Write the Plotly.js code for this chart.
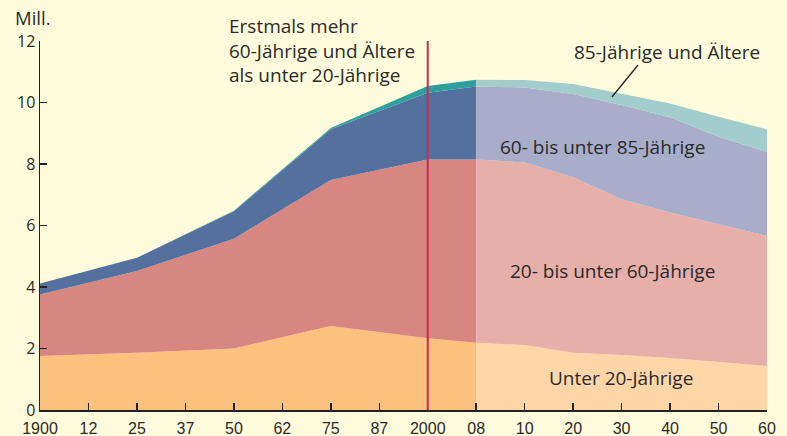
<!DOCTYPE html>
<html>
<head>
<meta charset="utf-8">
<script src="https://cdn.plot.ly/plotly-3.0.1.min.js"></script>
<style>html,body{margin:0;padding:0;background:#fefcdc;}#chart{width:787px;height:436px;}</style>
</head>
<body>
<div id="chart"></div>
<script>
// Tick labels (evenly spaced positions on the axis)
const tickLabels = ["1900","12","25","37","50","62","75","87","2000","08","10","20","30","40","50","60"];
// Historical series (1900–2008), positions are tick indices
const histX = [0, 2, 4, 6, 8, 9];
const histUnder20 = [1.76, 1.86, 2.00, 2.73, 2.33, 2.19];
const hist20to60 = [2.00, 2.66, 3.57, 4.75, 5.82, 5.96];
const hist60to85 = [0.35, 0.43, 0.89, 1.65, 2.17, 2.37];
const hist85plus = [0.00, 0.00, 0.02, 0.04, 0.22, 0.22];
// Projection series (2008–2060)
const projX = [9, 10, 11, 12, 13, 14, 15];
const projUnder20 = [2.19, 2.11, 1.86, 1.79, 1.69, 1.57, 1.43];
const proj20to60 = [5.96, 5.94, 5.71, 5.06, 4.73, 4.48, 4.23];
const proj60to85 = [2.37, 2.44, 2.71, 3.07, 3.10, 2.84, 2.74];
const proj85plus = [0.22, 0.24, 0.32, 0.36, 0.45, 0.65, 0.73];

const histColors = ["#fcc07f", "#d78682", "#53709f", "#2d9f9f"];
const projColors = ["#fed6a8", "#e6afaa", "#a8aeca", "#a3cccc"];
const names = ["Unter 20-Jährige", "20- bis unter 60-Jährige", "60- bis unter 85-Jährige", "85-Jährige und Ältere"];

function mk(x, y, group, color, name) {
  return {x: x, y: y, type: "scatter", mode: "lines", stackgroup: group,
    line: {width: 0, color: color}, fillcolor: color, name: name, hoverinfo: "skip", showlegend: false};
}
const hist = [histUnder20, hist20to60, hist60to85, hist85plus];
const proj = [projUnder20, proj20to60, proj60to85, proj85plus];
const data = [];
hist.forEach((s, i) => data.push(mk(histX, s, "hist", histColors[i], names[i])));
proj.forEach((s, i) => data.push(mk(projX, s, "proj", projColors[i], names[i])));

const txt = "#2a2a2a";
const annFont = {family: "Open Sans, Noto Sans, sans-serif", size: 19, color: txt};
function ann(text, x, y, ref) {
  return {text: text, x: x, y: y, xref: ref || "x", yref: ref || "y", xanchor: "left", yanchor: "middle",
    align: "left", showarrow: false, font: annFont};
}
const layout = {
  width: 787, height: 436,
  margin: {l: 40, r: 20, t: 41, b: 26, pad: 0},
  paper_bgcolor: "#fefcdc", plot_bgcolor: "#fefcdc",
  showlegend: false,
  xaxis: {range: [0, 15], tickvals: tickLabels.map((_, i) => i), ticktext: tickLabels,
    showgrid: false, zeroline: false, showline: true, linecolor: "#222", linewidth: 1.5,
    ticks: "inside", ticklen: 7, tickwidth: 1.5, tickcolor: "#222", ticklabelstandoff: 3,
    tickfont: {family: "Liberation Sans Narrow, sans-serif", size: 16, color: txt}, fixedrange: true},
  yaxis: {range: [0, 12], tickvals: [0, 2, 4, 6, 8, 10, 12],
    showgrid: false, zeroline: false, showline: true, linecolor: "#222", linewidth: 1.5,
    ticks: "inside", ticklen: 7, tickwidth: 1.5, tickcolor: "#222",
    tickfont: {family: "Open Sans, Noto Sans, sans-serif", size: 16, color: txt}, fixedrange: true},
  shapes: [
    {type: "line", xref: "x", yref: "y", x0: 8, x1: 8, y0: 0, y1: 12, line: {color: "#c4304c", width: 2}},
    {type: "line", xref: "x", yref: "y", x0: 12.34, x1: 11.80, y0: 11.22, y1: 10.18, line: {color: "#222", width: 1.3}}
  ],
  annotations: [
    {text: "Mill.", x: -0.0371, y: 1.065, xref: "paper", yref: "paper", xanchor: "left", yanchor: "middle", showarrow: false,
      font: {family: "Open Sans, Noto Sans, sans-serif", size: 18.5, color: txt}},
    ann("Erstmals mehr<br>60-Jährige und Ältere<br>als unter 20-Jährige", 0.257, 0.975, "paper"),
    ann("85-Jährige und Ältere", 10.98, 11.64),
    ann("60- bis unter 85-Jährige", 9.45, 8.56),
    ann("20- bis unter 60-Jährige", 9.66, 4.53),
    ann("Unter 20-Jährige", 10.47, 1.03)
  ]
};
Plotly.newPlot("chart", data, layout, {staticPlot: true, displayModeBar: false});
</script>
</body>
</html>
